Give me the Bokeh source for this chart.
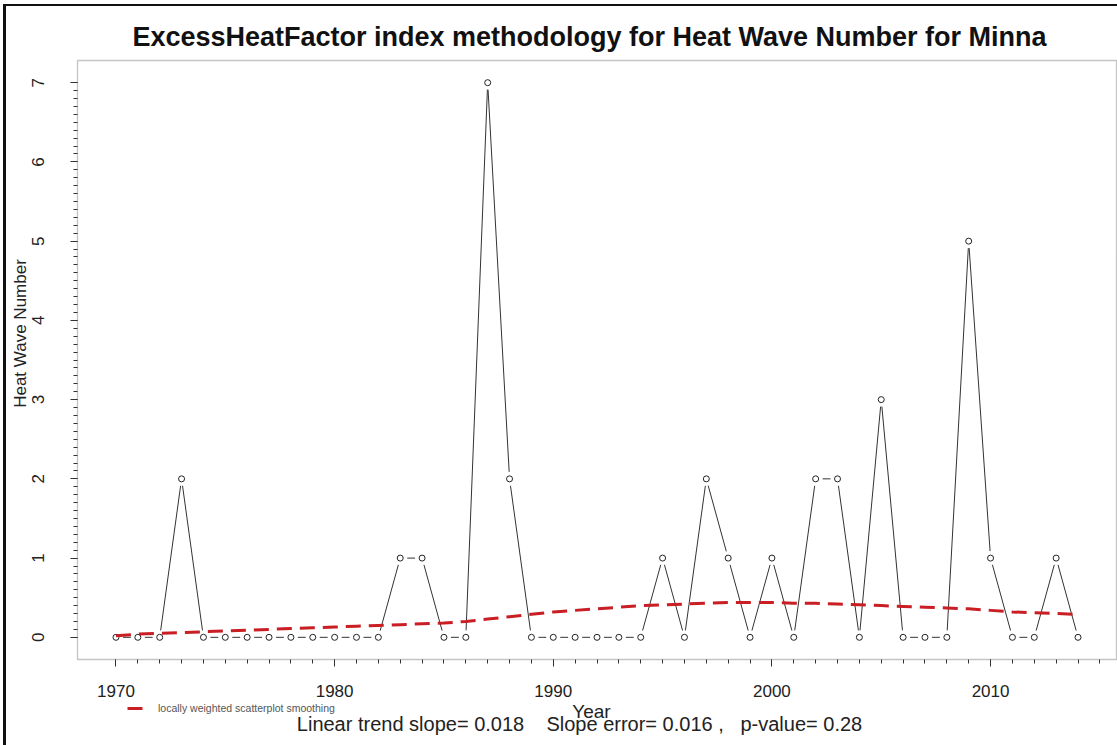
import math

from bokeh.plotting import figure
from bokeh.models import (Range1d, FixedTicker, Legend, LegendItem, Label,
                          BoxAnnotation)
from bokeh.embed import file_html
from bokeh.resources import INLINE

# Annual heat wave counts for Minna (Excess Heat Factor method)
years = list(range(1970, 2015))
heat_waves = [0, 0, 0, 2, 0, 0, 0, 0, 0, 0,
              0, 0, 0, 1, 1, 0, 0, 7, 2, 0,
              0, 0, 0, 0, 0, 1, 0, 2, 1, 0,
              1, 0, 2, 2, 0, 3, 0, 0, 0, 5,
              1, 0, 0, 1, 0]

# LOESS smoothed curve of the counts
loess = [0.02, 0.04, 0.05, 0.06, 0.07, 0.08, 0.09, 0.10, 0.11, 0.12,
         0.13, 0.14, 0.15, 0.16, 0.17, 0.18, 0.20, 0.23, 0.26, 0.29,
         0.32, 0.34, 0.36, 0.38, 0.40, 0.41, 0.42, 0.43, 0.44, 0.44,
         0.44, 0.43, 0.43, 0.42, 0.41, 0.40, 0.39, 0.38, 0.37, 0.36,
         0.34, 0.32, 0.31, 0.30, 0.29]

x_major = [1970, 1980, 1990, 2000, 2010]
y_major = [0, 1, 2, 3, 4, 5, 6, 7]

NB = "\u00a0"
title_text = "ExcessHeatFactor index methodology for Heat Wave Number for Minna"
ylabel_text = "Heat Wave Number"
xlabel_text = "Year"
legend_text = "locally weighted scatterplot smoothing"
stats_text = ("Linear trend slope= 0.018" + NB * 3 + " Slope error= 0.016 ,"
              + NB * 2 + " p-value= 0.28")

FONT = "Liberation Sans"
INK = "#222222"

# canvas size and where the plot box sits on it (pixels)
W, H = 1117, 745
BL, BR, BT, BB = 77, 1116, 60, 659

# box ranges padded by 4% like base R graphics
xpad = 0.04 * (max(years) - min(years))
ypad = 0.04 * (max(heat_waves) - min(heat_waves))
X0, X1 = min(years) - xpad, max(years) + xpad
Y0, Y1 = min(heat_waves) - ypad, max(heat_waves) + ypad

# the frame spans the whole canvas; extend the ranges accordingly
SX = (BR - BL) / (X1 - X0)
SY = (BB - BT) / (Y1 - Y0)
XL, XR = X0 - BL / SX, X1 + (W - BR) / SX
YB, YT = Y0 - (H - BB) / SY, Y1 + BT / SY


def dx(px):
    return XL + px / SX


def dy(py):
    return YB + (H - py) / SY


p = figure(width=W, height=H, output_backend="svg", toolbar_location=None,
           x_range=Range1d(XL, XR), y_range=Range1d(YB, YT),
           min_border=0, background_fill_color=None, border_fill_color=None)
p.grid.visible = False
p.outline_line_color = None

# white page with the panel's left and top edge lines
p.styles = {
    "background-color": "white",
    "background-image": "linear-gradient(#111, #111), linear-gradient(#111, #111)",
    "background-size": "3px 100%, 100% 2px",
    "background-position": "3px 4px, 3px 4px",
    "background-repeat": "no-repeat",
}

# plot box
p.add_layout(BoxAnnotation(left=X0, right=X1, bottom=Y0, top=Y1,
                           fill_alpha=0, line_color="#3a3a3a", line_width=1.3))

# axes pinned to the box edges
p.xaxis.fixed_location = Y0
p.yaxis.fixed_location = X0
p.xaxis.ticker = FixedTicker(ticks=x_major, minor_ticks=years + [2015])
p.yaxis.ticker = FixedTicker(ticks=y_major,
                             minor_ticks=[i / 10 for i in range(0, 71)])
for ax in (p.xaxis[0], p.yaxis[0]):
    ax.axis_line_color = None
    ax.major_tick_line_color = "#333333"
    ax.minor_tick_line_color = "#333333"
    ax.major_tick_in = 0
    ax.minor_tick_in = 0
    ax.major_tick_out = 7
    ax.minor_tick_out = 4
    ax.major_label_text_font = FONT
    ax.major_label_text_font_size = "17px"
    ax.major_label_text_color = INK
p.xaxis.major_label_standoff = 18
p.yaxis.major_label_orientation = "vertical"
p.yaxis.major_label_standoff = 26

# series line drawn R "type b" style: segments stop short of each point
gap = 7.0
x0s, y0s, x1s, y1s = [], [], [], []
for i in range(len(years) - 1):
    xa, ya, xb, yb = years[i], heat_waves[i], years[i + 1], heat_waves[i + 1]
    L = math.hypot((xb - xa) * SX, (yb - ya) * SY)
    if L <= 2 * gap:
        continue
    t = gap / L
    x0s.append(xa + t * (xb - xa))
    y0s.append(ya + t * (yb - ya))
    x1s.append(xb - t * (xb - xa))
    y1s.append(yb - t * (yb - ya))
p.segment(x0s, y0s, x1s, y1s, line_color="#333333", line_width=1)
p.scatter(years, heat_waves, marker="circle", size=6, fill_color=None,
          line_color=INK, line_width=1)

# loess smoothing
lo = p.line(years, loess, line_color="#c81e24", line_width=3,
            line_dash="15 8")

# legend below the axis
legend = Legend(items=[LegendItem(label=legend_text, renderers=[lo])],
                location=(127, 31), orientation="horizontal",
                padding=0, margin=0, spacing=0, label_standoff=14,
                glyph_width=17, glyph_height=10, label_height=10,
                label_text_font=FONT, label_text_font_size="10.5px",
                label_text_color="#555555", background_fill_alpha=0,
                border_line_color=None)
p.add_layout(legend, "center")

# texts (anchors sit on the text's vertical middle)
p.add_layout(Label(x=dx(589), y=dy(36), text=title_text, text_align="center",
                   text_baseline="middle", text_font=FONT,
                   text_font_style="bold", text_font_size="27px",
                   text_color="#111111"))
p.add_layout(Label(x=dx(20), y=dy(333), text=ylabel_text, angle=math.pi / 2,
                   text_align="center", text_baseline="middle",
                   text_font=FONT, text_font_size="17px", text_color=INK))
p.add_layout(Label(x=dx(591), y=dy(711), text=xlabel_text,
                   text_align="center", text_baseline="middle",
                   text_font=FONT, text_font_size="19px", text_color=INK))
p.add_layout(Label(x=dx(579), y=dy(723), text=stats_text,
                   text_align="center", text_baseline="middle",
                   text_font=FONT, text_font_size="20px", text_color=INK))

open("out.html", "w").write(file_html(p, INLINE))
